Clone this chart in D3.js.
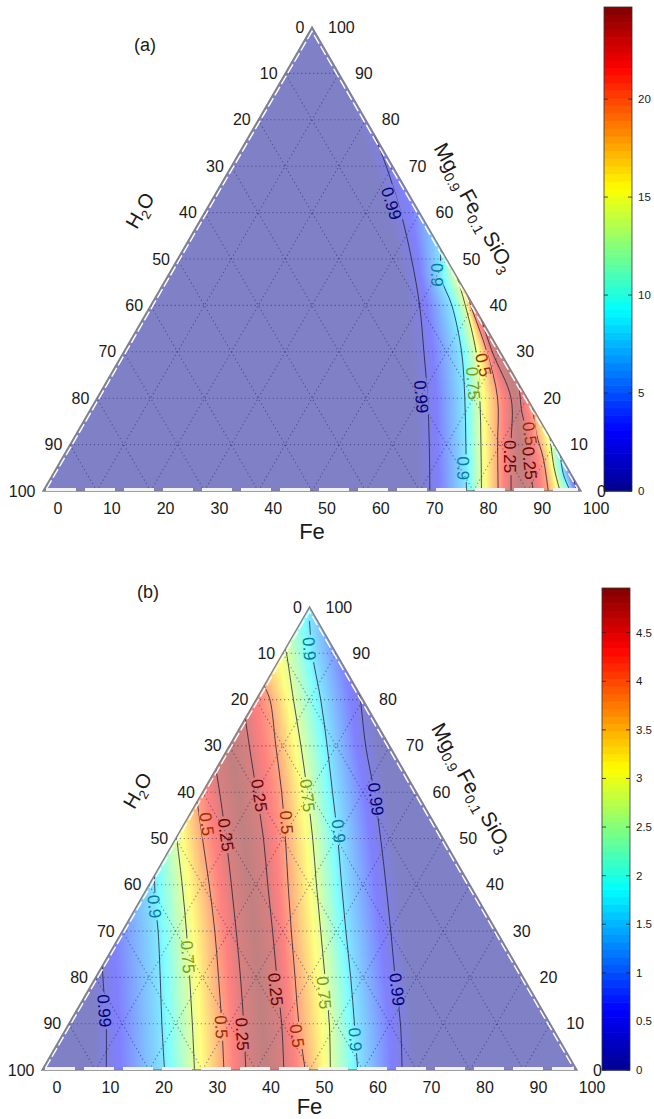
<!DOCTYPE html>
<html>
<head>
<meta charset="utf-8">
<script src="https://cdnjs.cloudflare.com/ajax/libs/d3/7.8.5/d3.min.js"></script>
<style>
  body { margin: 0; background: #fff; }
  text { font-family: "Liberation Sans", Arial, Helvetica, sans-serif; fill: #1a1a1a; }
</style>
</head>
<body>
<svg id="fig" width="654" height="1119"></svg>
<script>
// ---- data (Fe %, Mg0.9Fe0.1SiO3 %) ----

var gridTicks = [0, 10, 20, 30, 40, 50, 60, 70, 80, 90, 100];
var contourLevels = [0.99, 0.9, 0.75, 0.5, 0.25];
// position of each contour level on the colour scale (fraction of the bar)
var levelShade = [0.06, 0.33, 0.57, 0.8, 0.95];

// panel (a) contours, left flank (outer -> inner) then right flank (inner -> outer)
var a099L = [[71.9, 0], [66.8, 10], [61.5, 20], [55.8, 30], [50, 40], [43.5, 50], [36.5, 60], [28.8, 70], [23, 77]];
var a090L = [[78.7, 0], [73.6, 10], [68.4, 20], [62.8, 30], [56, 40], [51, 46], [48, 52]];
var a075L = [[81.5, 0], [76.4, 10], [71.2, 20], [65.5, 30], [58.5, 40], [54, 46]];
var a050L = [[84.6, 0], [79.5, 10], [74.5, 20], [67.5, 30], [59.5, 40], [58, 42]];
var a025L = [[87, 0], [82, 10], [77, 20], [68.5, 30], [63, 37]];
var a025R = [[91.1, 0], [87.5, 6], [84, 12], [80.5, 17], [77, 23]];
var a050R = [[93.9, 0], [89.5, 7], [85.5, 12.4], [82, 18]];
var a075R = [[96.1, 0], [92.5, 5], [88.5, 11.5]];
var a090R = [[98, 0], [95, 3.5], [92.3, 7.7]];
var a099R = [[99.2, 0], [97.3, 2.7]];

// panel (b) contours
var b099L = [[12, 0], [7, 10], [2.5, 18], [0, 22.5]];
var b090L = [[22.9, 0], [17.4, 10], [12.1, 20], [6.7, 30], [3.75, 35], [0, 42]];
var b075L = [[28.5, 0], [23.1, 10], [17.6, 20], [12, 30], [6.2, 40], [0, 50.3]];
var b050L = [[34, 0], [28.6, 10], [23, 20], [17.3, 30], [11.25, 40], [5, 50], [0, 58]];
var b025L = [[38.1, 0], [32.7, 10], [27.1, 20], [21.3, 30], [15.4, 40], [9.4, 50], [3.2, 60], [0, 65]];
var b025R = [[45.2, 0], [39.8, 10], [33.9, 20], [28.1, 30], [22.2, 40], [16.4, 50], [10.1, 60], [3.75, 70], [0, 76]];
var b050R = [[49.2, 0], [43, 10], [37.3, 20], [31.6, 30], [26, 40], [20.5, 50], [14.8, 60], [8.7, 70], [2.6, 80], [0, 83]];
var b075R = [[53.9, 0], [48.7, 10], [42.9, 20], [37.1, 30], [31.3, 40], [25.6, 50], [19.6, 60], [13.4, 70], [7, 80], [0.7, 90], [0, 91]];
var b090R = [[59, 0], [53.4, 10], [47.7, 20], [41.8, 30], [36, 40], [30.3, 50], [24.3, 60], [18.3, 70], [12.1, 80], [5.5, 90], [1.5, 97]];
var b099R = [[67.3, 0], [62, 10], [56, 20], [50.2, 30], [44.3, 40], [38.3, 50], [32.1, 60], [25.5, 70], [19.5, 80], [18.5, 81.5]];

// contour labels: [level, Fe, Mg]
var labelsA = [[0.99, 33.8, 62], [0.99, 60.2, 20.3], [0.9, 49.9, 46.6], [0.9, 75.7, 4.9],
  [0.5, 68.3, 27.2], [0.75, 68.4, 23.2], [0.5, 84.3, 12.4], [0.25, 83.1, 7.4], [0.25, 87.5, 6]];
var labelsB = [[0.99, 5.3, 12.8], [0.9, 3.4, 35.3], [0.75, 15.1, 24.4], [0.5, 28.9, 9.3],
  [0.5, 4.3, 53.1], [0.25, 9, 50.8], [0.25, 33.6, 7.75], [0.25, 11, 59.3], [0.5, 19, 53.5],
  [0.25, 35, 17.4], [0.5, 44, 7.4], [0.75, 20, 59.3], [0.75, 44.4, 16.7], [0.9, 4.5, 91],
  [0.9, 29.7, 51.6], [0.9, 55.3, 6.6], [0.99, 33.2, 58.5], [0.99, 57.7, 17.4]];

// colour bars
var cbarTicksA = [0, 5, 10, 15, 20];
var cbarMaxA = 24.7;
var cbarTicksB = [0, 0.5, 1, 1.5, 2, 2.5, 3, 3.5, 4, 4.5];
var cbarMaxB = 4.96;

// ---- setup ----
var svg = d3.select('#fig');
var defs = svg.append('defs');

var jet = d3.scaleLinear()
  .domain([0, 0.125, 0.375, 0.625, 0.875, 1])
  .range(['#00008f', '#0000ff', '#00ffff', '#ffff00', '#ff0000', '#800000'])
  .interpolate(d3.interpolateRgb)
  .clamp(true);

// washed colours (surface drawn at half opacity over white)
var lut = d3.range(256).map(function(i) {
  var c = d3.rgb(jet(i / 255));
  return [Math.round(c.r * 0.5 + 127.5), Math.round(c.g * 0.5 + 127.5), Math.round(c.b * 0.5 + 127.5)];
});

function shadeOf(level) { return levelShade[contourLevels.indexOf(level)]; }

var panels = [
  {
    id: 'a', tag: '(a)', tagPos: [145, 51], x0: 43, x1: 581, yTop: 27, yBase: 491, titleDy: 48,
    left: [[0.99, a099L], [0.9, a090L], [0.75, a075L], [0.5, a050L], [0.25, a025L]],
    right: [[0.25, a025R], [0.5, a050R], [0.75, a075R], [0.9, a090R], [0.99, a099R]],
    labels: labelsA,
    cbar: { x: 604, w: 28, top: 7, bottom: 491, max: cbarMaxA, ticks: cbarTicksA }
  },
  {
    id: 'b', tag: '(b)', tagPos: [148, 598], x0: 42, x1: 577, yTop: 607, yBase: 1070, titleDy: 44,
    left: [[0.99, b099L], [0.9, b090L], [0.75, b075L], [0.5, b050L], [0.25, b025L]],
    right: [[0.25, b025R], [0.5, b050R], [0.75, b075R], [0.9, b090R], [0.99, b099R]],
    labels: labelsB,
    cbar: { x: 602, w: 28, top: 588, bottom: 1070, max: cbarMaxB, ticks: cbarTicksB }
  }
];

function tern(p, fe, mg) {
  var W = p.x1 - p.x0, H = p.yBase - p.yTop;
  return [p.x0 + (fe / 100 + mg / 200) * W, p.yBase - mg / 100 * H];
}

// Fe position of a contour at a given Mg, carrying the last segment past the edge
function fePos(line, mg) {
  var i = 1;
  while (i < line.length - 1 && line[i][1] < mg) i++;
  var a = line[i - 1], b = line[i];
  return a[0] + (b[0] - a[0]) * (mg - a[1]) / (b[1] - a[1]);
}

function rowScale(p, mg) {
  var fade = 2.2;
  var L = p.left.map(function(c) { return fePos(c[1], mg); });
  var R = p.right.map(function(c) { return fePos(c[1], mg); });
  var ks = [[L[0] - fade, 0]];
  L.forEach(function(v, i) { ks.push([v, shadeOf(p.left[i][0])]); });
  ks.push([(L[L.length - 1] + R[0]) / 2, 1]);
  R.forEach(function(v, i) { ks.push([v, shadeOf(p.right[i][0])]); });
  ks.push([R[R.length - 1] + fade, 0]);
  for (var i = 1; i < ks.length; i++) {
    if (ks[i][0] <= ks[i - 1][0]) ks[i][0] = ks[i - 1][0] + 1e-4;
  }
  return d3.scaleLinear().domain(ks.map(function(k) { return k[0]; }))
    .range(ks.map(function(k) { return k[1]; })).clamp(true);
}

function drawField(g, p) {
  var W = p.x1 - p.x0, H = p.yBase - p.yTop;
  var cw = Math.ceil(W) + 1, ch = Math.ceil(H) + 1;
  var canvas = document.createElement('canvas');
  canvas.width = cw; canvas.height = ch;
  var ctx = canvas.getContext('2d');
  var img = ctx.createImageData(cw, ch);
  for (var j = 0; j < ch; j++) {
    var mg = (H - j - 0.5) / H * 100;
    var s = rowScale(p, mg);
    for (var i = 0; i < cw; i++) {
      var fe = ((i + 0.5) / W - mg / 200) * 100;
      var c = lut[Math.round(s(fe) * 255)];
      var k = (j * cw + i) * 4;
      img.data[k] = c[0]; img.data[k + 1] = c[1]; img.data[k + 2] = c[2]; img.data[k + 3] = 255;
    }
  }
  ctx.putImageData(img, 0, 0);
  g.append('image')
    .attr('x', p.x0).attr('y', p.yTop)
    .attr('width', cw).attr('height', ch)
    .attr('href', canvas.toDataURL())
    .attr('clip-path', 'url(#clip-' + p.id + ')');
}

function drawPanel(p) {
  var g = svg.append('g');
  var A = tern(p, 0, 100), Lc = tern(p, 0, 0), Rc = tern(p, 100, 0);

  defs.append('clipPath').attr('id', 'clip-' + p.id)
    .append('path').attr('d', 'M' + A + 'L' + Lc + 'L' + Rc + 'Z');

  drawField(g, p);

  // dotted grid
  var grid = g.append('g').attr('clip-path', 'url(#clip-' + p.id + ')')
    .attr('stroke', '#20205a').attr('stroke-opacity', 0.5)
    .attr('stroke-width', 1.1).attr('stroke-dasharray', '1.2,2.8').attr('fill', 'none');
  gridTicks.slice(1, -1).forEach(function(v) {
    var s1 = tern(p, 0, v), s2 = tern(p, 100 - v, v);        // constant Mg
    var f1 = tern(p, v, 0), f2 = tern(p, v, 100 - v);        // constant Fe
    var h1 = tern(p, 100 - v, 0), h2 = tern(p, 0, 100 - v);  // constant H2O
    [[s1, s2], [f1, f2], [h1, h2]].forEach(function(seg) {
      grid.append('line').attr('x1', seg[0][0]).attr('y1', seg[0][1])
        .attr('x2', seg[1][0]).attr('y2', seg[1][1]);
    });
  });

  // contour labels first (into their own group), so the lines can be broken under them
  var all = p.left.concat(p.right);
  var mask = defs.append('mask').attr('id', 'gap-' + p.id)
    .attr('maskUnits', 'userSpaceOnUse').attr('x', 0).attr('y', 0).attr('width', 654).attr('height', 1119);
  mask.append('rect').attr('width', 654).attr('height', 1119).attr('fill', '#fff');

  var cl = g.append('g').attr('clip-path', 'url(#clip-' + p.id + ')');
  var lg = g.append('g');
  var line = d3.line().curve(d3.curveCatmullRom.alpha(0.5));

  p.labels.forEach(function(lb) {
    var pos = tern(p, lb[1], lb[2]);
    var best = null, bd = Infinity;
    all.filter(function(c) { return c[0] === lb[0]; }).forEach(function(c) {
      var pts = c[1].map(function(d) { return tern(p, d[0], d[1]); });
      for (var i = 1; i < pts.length; i++) {
        var mx = (pts[i][0] + pts[i - 1][0]) / 2, my = (pts[i][1] + pts[i - 1][1]) / 2;
        var dd = Math.hypot(mx - pos[0], my - pos[1]);
        if (dd < bd) { bd = dd; best = [pts[i - 1], pts[i]]; }
      }
    });
    var dx = best[1][0] - best[0][0], dy = best[1][1] - best[0][1];
    if (dy < 0) { dx = -dx; dy = -dy; }
    var ang = Math.atan2(dy, dx) * 180 / Math.PI;
    var tf = 'translate(' + pos[0] + ',' + pos[1] + ') rotate(' + ang + ')';
    var t = lg.append('text')
      .attr('transform', tf)
      .attr('text-anchor', 'middle').attr('dy', '0.36em')
      .style('font-size', '17px')
      .style('fill', d3.rgb(jet(shadeOf(lb[0]))).darker(1.4))
      .text(lb[0]);
    var len = t.node().getComputedTextLength() + 4;
    mask.append('rect').attr('transform', tf)
      .attr('x', -len / 2).attr('y', -6.5).attr('width', len).attr('height', 13).attr('fill', '#000');
  });

  cl.append('g').attr('mask', 'url(#gap-' + p.id + ')')
    .selectAll('path').data(all).enter().append('path')
    .attr('d', function(c) { return line(c[1].map(function(d) { return tern(p, d[0], d[1]); })); })
    .attr('fill', 'none').attr('stroke', '#1c1c30').attr('stroke-width', 0.9).attr('stroke-opacity', 0.85);

  // frame: grey outline with white dashes inside
  g.append('path').attr('d', 'M' + A + 'L' + Lc + 'L' + Rc + 'Z')
    .attr('fill', 'none').attr('stroke', '#808080').attr('stroke-width', 1.4);
  g.append('path')
    .attr('d', 'M' + [Lc[0] + 3.5, Lc[1] - 2] + 'L' + [A[0], A[1] + 4.5] + 'L' + [Rc[0] - 3.5, Rc[1] - 2])
    .attr('fill', 'none').attr('stroke', '#fff').attr('stroke-width', 1.4).attr('stroke-dasharray', '10,3');
  g.append('line').attr('x1', Lc[0] + 3).attr('x2', Rc[0] - 3)
    .attr('y1', Lc[1] - 1.5).attr('y2', Lc[1] - 1.5)
    .attr('stroke', '#f2f2f2').attr('stroke-width', 3).attr('stroke-dasharray', '30,9');

  // colour bar
  var cb = p.cbar;
  var cy = d3.scaleLinear().domain([0, cb.max]).range([cb.bottom, cb.top]);
  var nb = 64;
  g.selectAll('rect.cb').data(d3.range(nb)).enter().append('rect')
    .attr('x', cb.x).attr('width', cb.w)
    .attr('y', function(i) { return cy((i + 1) * cb.max / nb); })
    .attr('height', function(i) { return cy(i * cb.max / nb) - cy((i + 1) * cb.max / nb) + 0.6; })
    .attr('fill', function(i) { return jet((i + 0.5) / nb); });
  g.append('rect').attr('x', cb.x).attr('y', cb.top).attr('width', cb.w).attr('height', cb.bottom - cb.top)
    .attr('fill', 'none').attr('stroke', '#333').attr('stroke-width', 0.8);
  cb.ticks.forEach(function(t) {
    var y = cy(t);
    g.append('line').attr('x1', cb.x).attr('x2', cb.x + 4).attr('y1', y).attr('y2', y)
      .attr('stroke', '#222').attr('stroke-width', 0.8);
    g.append('line').attr('x1', cb.x + cb.w - 4).attr('x2', cb.x + cb.w).attr('y1', y).attr('y2', y)
      .attr('stroke', '#222').attr('stroke-width', 0.8);
    g.append('text').attr('x', cb.x + cb.w + 6).attr('y', y + 4)
      .style('font-size', '11.5px').text(t);
  });

  // ternary tick labels
  gridTicks.forEach(function(v) {
    var l = tern(p, 0, 100 - v);
    g.append('text').attr('x', l[0] - 7.5).attr('y', l[1] + 5.5)
      .attr('text-anchor', 'end').style('font-size', '16px').text(v);
    var r = tern(p, 100 - v, v);
    g.append('text').attr('x', r[0] + 16).attr('y', r[1] + 5.5)
      .attr('text-anchor', 'start').style('font-size', '16px').text(v);
    var b = tern(p, v, 0);
    g.append('text').attr('x', b[0] + 15).attr('y', b[1] + 23)
      .attr('text-anchor', 'middle').style('font-size', '16px').text(v);
  });

  // axis titles
  g.append('text').attr('x', A[0]).attr('y', p.yBase + p.titleDy)
    .attr('text-anchor', 'middle').style('font-size', '22px').text('Fe');

  var h2o = g.append('text')
    .attr('transform', 'translate(' + (A[0] - 166) + ',' + (A[1] + 187) + ') rotate(-60)')
    .attr('text-anchor', 'middle').style('font-size', '20px');
  h2o.append('tspan').text('H');
  h2o.append('tspan').attr('dy', 5).style('font-size', '13px').text('2');
  h2o.append('tspan').attr('dy', -5).text('O');

  var mg = g.append('text')
    .attr('transform', 'translate(' + (A[0] + 156) + ',' + (A[1] + 184) + ') rotate(61)')
    .attr('text-anchor', 'middle').style('font-size', '21px');
  mg.append('tspan').text('Mg');
  mg.append('tspan').attr('dy', 5).style('font-size', '14px').text('0.9');
  mg.append('tspan').attr('dy', -5).text('\u2009Fe');
  mg.append('tspan').attr('dy', 5).style('font-size', '14px').text('0.1');
  mg.append('tspan').attr('dy', -5).text('\u2009SiO');
  mg.append('tspan').attr('dy', 5).style('font-size', '14px').text('3');

  g.append('text').attr('x', p.tagPos[0]).attr('y', p.tagPos[1])
    .attr('text-anchor', 'middle').style('font-size', '18px').text(p.tag);
}

panels.forEach(drawPanel);
</script>
</body>
</html>
